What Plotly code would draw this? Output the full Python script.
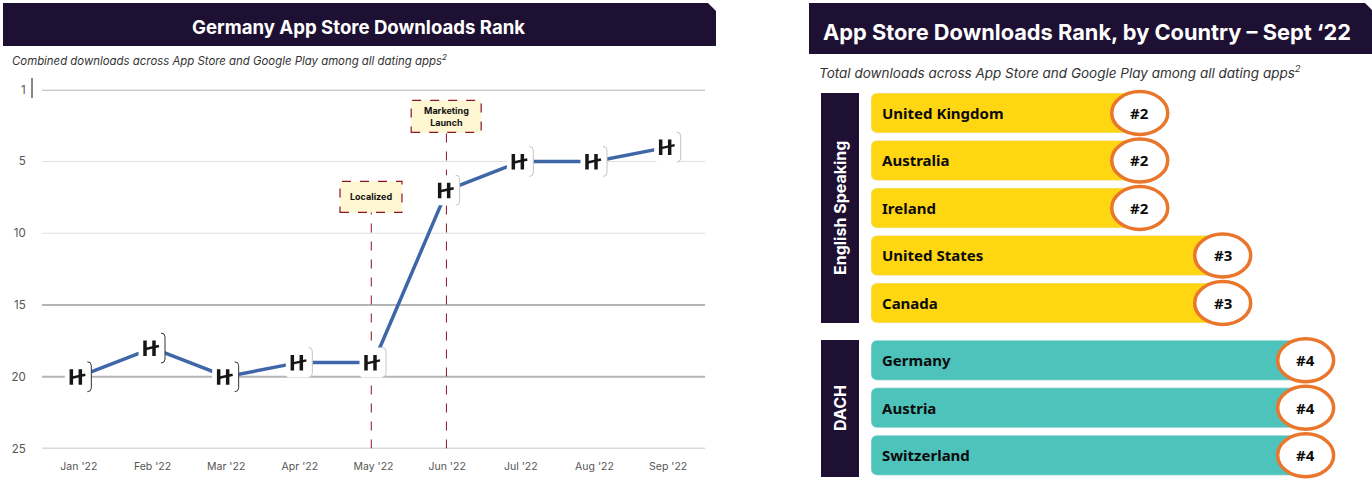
import plotly.graph_objects as go

W, H = 1372, 483
DARK = "#1E1033"
RED = "#8A1526"
HEAD_FONT = "Inter"
LABEL_FONT = "Noto Sans"

months = ["Jan '22", "Feb '22", "Mar '22", "Apr '22", "May '22", "Jun '22", "Jul '22", "Aug '22", "Sep '22"]
ranks = [20, 18, 20, 19, 19, 7, 5, 5, 4]
rank_ticks = [0, 5, 10, 15, 20, 25]
rank_tick_labels = ["1", "5", "10", "15", "20", "25"]
heavy_grid = [0, 15, 20, 25]
light_grid = [5, 10]

english_countries = ["United Kingdom", "Australia", "Ireland", "United States", "Canada"]
english_ranks = [2, 2, 2, 3, 3]
dach_countries = ["Germany", "Austria", "Switzerland"]
dach_ranks = [4, 4, 4]
bar_base = -1.24


def px(x):
    return x / W


def py(y):
    return 1 - y / H


def header(fig, x0, x1, y0, y1, cut):
    path = (
        f"M {px(x0)} {py(y0)} L {px(x1 - cut)} {py(y0)} L {px(x1)} {py(y0 + cut)} "
        f"L {px(x1)} {py(y1)} L {px(x0)} {py(y1)} Z"
    )
    fig.add_shape(type="path", path=path, xref="paper", yref="paper", fillcolor=DARK, line_width=0)


def paper_text(fig, x, y, text, size, color="#111111", family=HEAD_FONT, anchor="left", angle=0):
    fig.add_annotation(
        x=px(x), y=py(y), xref="paper", yref="paper", text=text, showarrow=False, xanchor=anchor, yanchor="middle",
        textangle=angle, font=dict(size=size, color=color, family=family),
    )


def add_logo(fig, month, rank, edge):
    anchor = dict(xref="x", yref="y", xsizemode="pixel", ysizemode="pixel", xanchor=month, yanchor=rank)
    box = "M -10 15 L 8.5 15 Q 12.5 15 12.5 11 L 12.5 -11 Q 12.5 -15 8.5 -15 L -10 -15 Q -14 -15 -14 -11 L -14 11 Q -14 15 -10 15 Z"
    fig.add_shape(type="path", path=box, fillcolor="white", line_width=0, **anchor)
    arc = "M 8.5 15 Q 12.5 15 12.5 11 L 12.5 -11 Q 12.5 -15 8.5 -15"
    fig.add_shape(type="path", path=arc, line=dict(color=edge, width=1), **anchor)
    stems = "M -7.5 7.5 L -7.5 -8 M 1.5 7.5 L 1.5 -8"
    fig.add_shape(type="path", path=stems, line=dict(color="#161616", width=3.5), **anchor)
    bar = "M -7 -1 L 6.5 2"
    fig.add_shape(type="path", path=bar, line=dict(color="#161616", width=2.5), **anchor)


def add_note(fig, month, rank, half_width, half_height, shift, text):
    anchor = dict(xref="x", yref="y", xsizemode="pixel", ysizemode="pixel", xanchor=month, yanchor=rank)
    fig.add_shape(
        type="rect", x0=shift - half_width, x1=shift + half_width, y0=-half_height, y1=half_height, fillcolor="#FFF6D2",
        line=dict(color=RED, width=1.2, dash="dash"), **anchor,
    )
    fig.add_annotation(
        x=month, y=rank, xref="x", yref="y", text=text, showarrow=False, xshift=shift,
        font=dict(size=9, color="#111111", family=HEAD_FONT, weight=700),
    )


def add_rows(fig, countries, values, color, yaxis):
    fig.add_trace(
        go.Bar(
            x=[v - bar_base for v in values], y=countries, base=bar_base, orientation="h", marker_color=color,
            xaxis="x2", yaxis=yaxis, showlegend=False, hoverinfo="skip",
        )
    )
    yref = yaxis
    for country, value in zip(countries, values):
        fig.add_annotation(
            x=bar_base, y=country, xref="x2", yref=yref, text=f"<b>{country}</b>", showarrow=False, xanchor="left",
            xshift=8.5, font=dict(size=15, color="#0B0B0B", family=LABEL_FONT),
        )
        fig.add_shape(
            type="circle", xref="x2", yref=yref, xsizemode="pixel", ysizemode="pixel", xanchor=value, yanchor=country,
            x0=-28, x1=28, y0=-21.5, y1=21.5, fillcolor="white", line=dict(color="#E9762B", width=3.5),
        )
        fig.add_annotation(
            x=value, y=country, xref="x2", yref=yref, text=f"<b>#{value}</b>", showarrow=False,
            font=dict(size=15, color="#0B0B0B", family=LABEL_FONT),
        )


fig = go.Figure()

# left chart
for value in heavy_grid:
    fig.add_hline(y=value, line=dict(color="#B5B5B5", width=2 if value != 25 else 1.5), layer="below")
for value in light_grid:
    fig.add_hline(y=value, line=dict(color="#DEDEDE", width=1), layer="below")
fig.add_shape(type="line", x0="May '22", x1="May '22", x0shift=-0.03, x1shift=-0.03, y0=25, y1=8.5, xref="x", yref="y",
              line=dict(color=RED, width=1, dash="dash"), layer="below")
fig.add_shape(type="line", x0="Jun '22", x1="Jun '22", x0shift=-0.01, x1shift=-0.01, y0=25, y1=3, xref="x", yref="y",
              line=dict(color=RED, width=1, dash="dash"), layer="below")

fig.add_trace(
    go.Scatter(x=months, y=ranks, mode="lines", line=dict(color="#3F67A8", width=3.5), showlegend=False, hoverinfo="skip")
)
for i, (month, rank) in enumerate(zip(months, ranks)):
    add_logo(fig, month, rank, "#333333" if i < 3 else "#C4C4C4")

add_note(fig, "May '22", 7.47, 31, 15.5, -2.5, "Localized")
add_note(fig, "Jun '22", 1.86, 35, 16, -1, "Marketing<br>Launch")

header(fig, 3, 716, 3, 46, 8)
paper_text(fig, 358, 27, "<b>Germany App Store Downloads Rank</b>", 18.6, "white", anchor="center")
paper_text(fig, 10, 60, "<i>Combined downloads across App Store and Google Play among all dating apps<sup>2</sup></i>", 11.4, "#333333")
fig.add_shape(type="line", x0=px(32), x1=px(32), y0=py(78), y1=py(98), xref="paper", yref="paper",
              line=dict(color="#111111", width=1))

# right chart
add_rows(fig, english_countries, english_ranks, "#FFD612", "y2")
add_rows(fig, dach_countries, dach_ranks, "#4DC3BC", "y3")

header(fig, 809, 1372, 3, 54, 7)
paper_text(fig, 1087, 32, "<b>App Store Downloads Rank, by Country – Sept ‘22</b>", 21.8, "white", anchor="center")
paper_text(fig, 816.5, 71.5, "<i>Total downloads across App Store and Google Play among all dating apps<sup>2</sup></i>", 13.5, "#333333")

for y0, y1, label, mid in [(93, 323, "English Speaking", 208), (340, 477, "DACH", 408)]:
    fig.add_shape(type="rect", x0=px(821), x1=px(859), y0=py(y0), y1=py(y1), xref="paper", yref="paper",
                  fillcolor=DARK, line_width=0)
    paper_text(fig, 840, mid, f"<b>{label}</b>", 16, "white", anchor="center", angle=-90)

hidden = dict(visible=False, fixedrange=True, automargin=False)
fig.update_layout(
    width=W, height=H, margin=dict(l=0, r=0, t=0, b=0, autoexpand=False), paper_bgcolor="white", plot_bgcolor="white",
    barcornerradius=6, bargap=0.16,
    xaxis=dict(
        domain=[px(42), px(705)], type="category", categoryorder="array", categoryarray=months, range=[-0.5, 8.5],
        showgrid=False, zeroline=False, showline=False, ticks="outside", ticklen=8, tickcolor="rgba(0,0,0,0)",
        automargin=False, tickfont=dict(size=10.5, color="#555555", family=HEAD_FONT),
    ),
    yaxis=dict(
        domain=[py(448.5), py(89.7)], range=[25, 0], tickvals=rank_ticks, ticktext=rank_tick_labels, showgrid=False,
        zeroline=False, showline=False, ticks="outside", ticklen=13, tickcolor="rgba(0,0,0,0)",
        automargin=False, tickfont=dict(size=11.5, color="#555555", family=HEAD_FONT),
    ),
    xaxis2=dict(domain=[px(871), 1], range=[bar_base, 4.8], anchor="y2", **hidden),
    yaxis2=dict(domain=[py(326.75), py(89.25)], anchor="x2", autorange="reversed", type="category", **hidden),
    yaxis3=dict(domain=[py(479), py(336.5)], anchor="x2", autorange="reversed", type="category", **hidden),
)

fig.write_html(
    "out.html",
    config={"displayModeBar": False},
    post_script="document.body.style.margin='0';document.body.style.overflow='hidden';",
)
